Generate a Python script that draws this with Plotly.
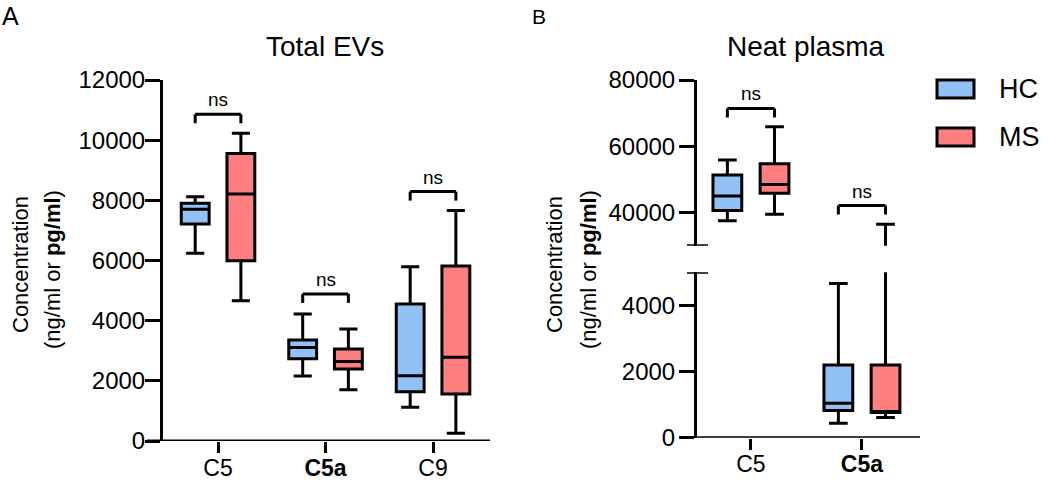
import plotly.graph_objects as go

# ---------------- data ----------------
ev_cats = ["C5", "C5a", "C9"]
ev_ticktext = ["C5", "<b>C5a</b>", "C9"]
ev_hc_low = [6240, 2160, 1120]
ev_hc_q1 = [7210, 2730, 1640]
ev_hc_med = [7700, 3110, 2170]
ev_hc_q3 = [7900, 3360, 4550]
ev_hc_high = [8120, 4220, 5790]
ev_ms_low = [4660, 1700, 260]
ev_ms_q1 = [5990, 2390, 1560]
ev_ms_med = [8210, 2640, 2780]
ev_ms_q3 = [9560, 3060, 5820]
ev_ms_high = [10230, 3720, 7660]
ev_ns_y = [10860, 4890, 8290]
ev_ns_text = ["ns", "ns", "ns"]

np_cats = ["C5", "C5a"]
np_ticktext = ["C5", "<b>C5a</b>"]
np_hc_low = [37500, 440]
np_hc_q1 = [40600, 820]
np_hc_med = [45000, 1040]
np_hc_q3 = [51300, 2200]
np_hc_high = [55850, 4660]
np_ms_low = [39500, 610]
np_ms_q1 = [45800, 760]
np_ms_med = [48500, 790]
np_ms_q3 = [54700, 2200]
np_ms_high = [65900, 36500]
np_ns_y = [71400, 42100]
np_ns_text = ["ns", "ns"]

groups = ["HC", "MS"]
fills = {"HC": "#92C1F6", "MS": "#FE7F7F"}

# ---------------- layout geometry (pixels) ----------------
W, H = 1050, 480
def fx(p):
    return p / W
def fy(p):
    return 1 - p / H

FONT = "Liberation Sans, Arial, sans-serif"
BOXGAP = 0.15
BOXGROUPGAP = 0.39
OFF = (1 - BOXGAP) / 4

fig = go.Figure()

def add_boxes(cats, xa, ya, hc, ms):
    for g, d in (("HC", hc), ("MS", ms)):
        fig.add_trace(go.Box(
            x=cats, q1=d[1], median=d[2], q3=d[3], lowerfence=d[0], upperfence=d[4],
            name=g, offsetgroup=g, xaxis=xa, yaxis=ya,
            fillcolor=fills[g], line=dict(color="black", width=3),
            whiskerwidth=0.65, boxpoints=False, showlegend=False, hoverinfo="skip",
        ))

ev_hc = (ev_hc_low, ev_hc_q1, ev_hc_med, ev_hc_q3, ev_hc_high)
ev_ms = (ev_ms_low, ev_ms_q1, ev_ms_med, ev_ms_q3, ev_ms_high)
np_hc = (np_hc_low, np_hc_q1, np_hc_med, np_hc_q3, np_hc_high)
np_ms = (np_ms_low, np_ms_q1, np_ms_med, np_ms_q3, np_ms_high)

add_boxes(ev_cats, "x", "y", ev_hc, ev_ms)
add_boxes(np_cats, "x2", "y2", np_hc, np_ms)   # lower segment of broken axis
add_boxes(np_cats, "x2", "y3", np_hc, np_ms)   # upper segment of broken axis

axis_common = dict(showgrid=False, zeroline=False, showline=True, linecolor="black",
                   linewidth=3, ticks="outside", tickwidth=3, tickcolor="black",
                   tickfont=dict(family=FONT, size=24, color="black"))
xaxis_common = dict(axis_common, showline=False,
                    tickfont=dict(family=FONT, size=23, color="black"))

fig.update_layout(
    # left panel
    xaxis=dict(domain=[fx(163), fx(490)], range=[-0.512, 2.530], anchor="y",
               type="category", categoryorder="array", categoryarray=ev_cats,
               tickvals=ev_cats, ticktext=ev_ticktext, ticklen=11,
               ticklabelstandoff=-5, **xaxis_common),
    yaxis=dict(domain=[fy(441), fy(80)], range=[0, 12000], anchor="x",
               tickvals=[0, 2000, 4000, 6000, 8000, 10000, 12000], tickformat="d",
               ticklen=15, ticklabelstandoff=-5, **axis_common),
    # right panel
    xaxis2=dict(domain=[fx(697), fx(920)], range=[-0.486, 1.523], anchor="y2",
                type="category", categoryorder="array", categoryarray=np_cats,
                tickvals=np_cats, ticktext=np_ticktext, ticklen=11,
                ticklabelstandoff=-5, **xaxis_common),
    yaxis2=dict(domain=[fy(437.7), fy(272.3)], range=[0, 5000], anchor="x2",
                tickvals=[0, 2000, 4000], tickformat="d", ticklen=15,
                ticklabelstandoff=-1, **axis_common),
    yaxis3=dict(domain=[fy(245.7), fy(80)], range=[30000, 80000], anchor="x2",
                tickvals=[40000, 60000, 80000], tickformat="d", ticklen=15,
                ticklabelstandoff=-1, **axis_common),
    boxmode="group", boxgap=BOXGAP, boxgroupgap=BOXGROUPGAP,
    width=W, height=H, margin=dict(l=0, r=0, t=0, b=0, pad=0, autoexpand=False),
    paper_bgcolor="white", plot_bgcolor="rgba(0,0,0,0)",
    font=dict(family=FONT, color="black"),
)

shapes = []
annotations = []

# x-axis lines (extend left past the y axis, as in the reference)
shapes.append(dict(type="line", xref="paper", yref="y", x0=fx(147), x1=fx(490), y0=0, y1=0,
                   line=dict(color="black", width=3)))
shapes.append(dict(type="line", xref="paper", yref="y2", x0=fx(681), x1=fx(920), y0=0, y1=0,
                   line=dict(color="black", width=3)))

def add_brackets(cats, ns_y, ns_text, xref, yref, drop):
    for i, (c, yv, t) in enumerate(zip(cats, ns_y, ns_text)):
        x0, x1 = i - OFF, i + OFF
        ln = dict(color="black", width=3)
        shapes.append(dict(type="line", xref=xref, yref=yref, x0=x0, x1=x1, y0=yv, y1=yv, line=ln))
        shapes.append(dict(type="line", xref=xref, yref=yref, x0=x0, x1=x0, y0=yv, y1=yv - drop, line=ln))
        shapes.append(dict(type="line", xref=xref, yref=yref, x0=x1, x1=x1, y0=yv, y1=yv - drop, line=ln))
        annotations.append(dict(xref=xref, yref=yref, x=i, y=yv, text=t, showarrow=False,
                                yanchor="bottom", yshift=2,
                                font=dict(family=FONT, size=19, color="black")))

add_brackets(ev_cats, ev_ns_y, ev_ns_text, "x", "y", 12000 / 361 * 9)
add_brackets(np_cats, np_ns_y, np_ns_text, "x2", "y3", 50000 / 165.7 * 9)

# axis-break end marks
for yref, yv in (("y3", 30000), ("y2", 5000)):
    shapes.append(dict(type="line", xref="paper", yref=yref, x0=fx(687), x1=fx(708),
                       y0=yv, y1=yv, line=dict(color="black", width=3)))

# legend (drawn manually)
for g, top in (("HC", 80), ("MS", 128)):
    shapes.append(dict(type="rect", xref="paper", yref="paper", x0=fx(937), x1=fx(974),
                       y0=fy(top + 18), y1=fy(top), fillcolor=fills[g],
                       line=dict(color="black", width=3)))
    annotations.append(dict(xref="paper", yref="paper", x=fx(997), y=fy(top + 9), text=g,
                            xanchor="left", yanchor="middle", showarrow=False,
                            font=dict(family=FONT, size=27, color="black")))

# titles and panel letters
annotations.append(dict(xref="paper", yref="paper", x=fx(325), y=fy(46), text="Total EVs",
                        showarrow=False, xanchor="center", yanchor="middle",
                        font=dict(family=FONT, size=28, color="black")))
annotations.append(dict(xref="paper", yref="paper", x=fx(806), y=fy(46), text="Neat plasma",
                        showarrow=False, xanchor="center", yanchor="middle",
                        font=dict(family=FONT, size=28, color="black")))
annotations.append(dict(xref="paper", yref="paper", x=fx(0), y=fy(16), text="A",
                        showarrow=False, xanchor="left", yanchor="middle",
                        font=dict(family=FONT, size=25, color="black")))
annotations.append(dict(xref="paper", yref="paper", x=fx(530), y=fy(17), text="B",
                        showarrow=False, xanchor="left", yanchor="middle",
                        font=dict(family=FONT, size=21, color="black")))

# y axis titles (two lines each)
for x1, x2 in ((20, 52), (554, 588)):
    annotations.append(dict(xref="paper", yref="paper", x=fx(x1), y=fy(265), text="Concentration",
                            textangle=-90, showarrow=False, xanchor="center", yanchor="middle",
                            font=dict(family=FONT, size=22, color="black")))
    annotations.append(dict(xref="paper", yref="paper", x=fx(x2), y=fy(270),
                            text="(ng/ml or <b>pg/ml</b>)",
                            textangle=-90, showarrow=False, xanchor="center", yanchor="middle",
                            font=dict(family=FONT, size=22, color="black")))

fig.update_layout(shapes=shapes, annotations=annotations)

fig.write_html("out.html", config={"displayModeBar": False},
               post_script="document.body.style.margin='0';")
